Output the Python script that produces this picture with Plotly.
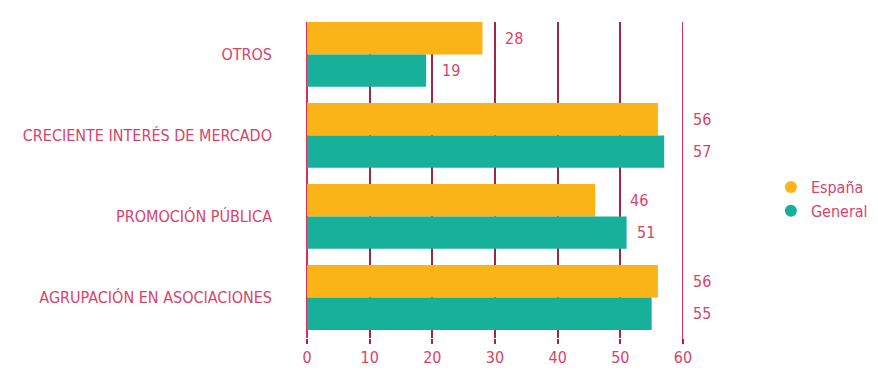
import math
import plotly.graph_objects as go

categories = ["OTROS", "CRECIENTE INTERÉS DE MERCADO", "PROMOCIÓN PÚBLICA", "AGRUPACIÓN EN ASOCIACIONES"]
espana = [28, 56, 46, 56]
general = [19, 57, 51, 55]
series_names = ["España", "General"]
tick_vals = [0, 10, 20, 30, 40, 50, 60]

ORANGE = "#fab417"
TEAL = "#17b19b"
TEXT = "#d9436a"
GRID = "#9f274c"
AXIS = "#d8305c"
FONT = "Liberation Sans Narrow, DejaVu Sans Condensed, Arial Narrow, sans-serif"

fig = go.Figure()
fig.add_trace(go.Bar(y=categories, x=espana, orientation="h", name=series_names[0],
                     marker=dict(color=ORANGE, line=dict(width=0)), showlegend=False))
fig.add_trace(go.Bar(y=categories, x=general, orientation="h", name=series_names[1],
                     marker=dict(color=TEAL, line=dict(width=0)), showlegend=False))
# legend entries with round markers
for nm, col in zip(series_names, [ORANGE, TEAL]):
    fig.add_trace(go.Scatter(x=[None], y=[None], mode="markers", name=nm,
                             marker=dict(color=col, size=12, symbol="circle")))

# value labels: placed just past the next gridline when the bar end is close to it
def label_x(v):
    c = math.ceil(v / 10) * 10
    return c if (c - v) <= 5 else v

ann = []
for i, cat in enumerate(categories):
    for v, off in ((espana[i], -0.2), (general[i], 0.2)):
        ann.append(dict(x=label_x(v), y=i + off, xref="x", yref="y", text=str(v),
                        showarrow=False, xanchor="left", yanchor="middle", xshift=8,
                        font=dict(color=TEXT, size=16, family=FONT)))

fig.update_layout(
    width=878, height=370,
    margin=dict(l=307, r=195, t=22, b=32, autoexpand=False),
    paper_bgcolor="white", plot_bgcolor="white",
    barmode="group", bargap=0.2, bargroupgap=0,
    font=dict(family=FONT, color=TEXT, size=16),
    annotations=ann,
    legend=dict(xref="container", yref="container", x=0.878, y=0.462, xanchor="left", yanchor="middle",
                font=dict(size=16, color=TEXT, family=FONT), itemsizing="constant",
                tracegroupgap=0, bgcolor="rgba(0,0,0,0)"),
    shapes=[dict(type="line", xref="x", yref="paper", x0=60, x1=60, y0=-0.02, y1=1,
                 line=dict(color=AXIS, width=2), layer="below")],
)
fig.update_xaxes(range=[0, 60], tickvals=tick_vals, showgrid=True, gridcolor=GRID, gridwidth=2,
                 zeroline=True, zerolinecolor=AXIS, zerolinewidth=2,
                 ticks="outside", ticklen=5, tickwidth=2, tickcolor=GRID,
                 tickfont=dict(color=TEXT, size=16, family=FONT), showline=False, fixedrange=True,
                 automargin=False)
fig.update_yaxes(categoryorder="array", categoryarray=categories, range=[3.5, -0.4],
                 showgrid=False, zeroline=False, ticks="", ticklabelstandoff=34,
                 tickfont=dict(color=TEXT, size=16, family=FONT), fixedrange=True, automargin=False)

fig.write_html("out.html")
